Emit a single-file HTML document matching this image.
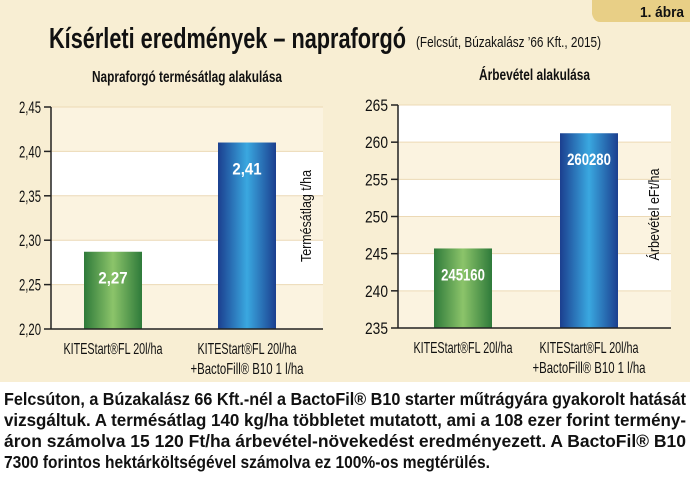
<!DOCTYPE html>
<html><head><meta charset="utf-8">
<style>
html,body{margin:0;padding:0;background:#fff;}
#wrap{position:relative;width:690px;height:480px;overflow:hidden;font-family:"Liberation Sans",sans-serif;}
svg{position:absolute;left:0;top:0;}
</style></head><body>
<div id="wrap">
<svg id="svg" width="690" height="480" viewBox="0 0 690 480" font-family="Liberation Sans, sans-serif">
  <defs>
    <linearGradient id="gGreen" x1="0" x2="1">
      <stop offset="0" stop-color="#2e7a3a"/><stop offset="0.5" stop-color="#8cc46a"/><stop offset="1" stop-color="#2e7a3a"/>
    </linearGradient>
    <linearGradient id="gBlue" x1="0" x2="1">
      <stop offset="0" stop-color="#1b3f8f"/><stop offset="0.5" stop-color="#3aa8e0"/><stop offset="1" stop-color="#1b3f8f"/>
    </linearGradient>
  </defs>
  <rect x="0" y="0" width="690" height="382" fill="#f8eed3"/>
  <path d="M592 0 H690 V22 H600 Q594 22 592 14 Z" fill="#e8cf86"/>
  <text x="684" y="17" text-anchor="end" font-size="15" font-weight="bold" fill="#111" textLength="44" lengthAdjust="spacingAndGlyphs">1. ábra</text>
  <text x="49" y="48" font-size="29" font-weight="bold" fill="#111" textLength="357" lengthAdjust="spacingAndGlyphs">Kísérleti eredmények – napraforgó</text>
  <text x="416" y="47" font-size="15" fill="#111" textLength="185" lengthAdjust="spacingAndGlyphs">(Felcsút, Búzakalász ’66 Kft., 2015)</text>
  <g id="c1"></g>
  <g id="c2"></g>
  <g font-size="17.5" font-weight="bold" fill="#111">
    <text x="4" y="405" textLength="682" lengthAdjust="spacingAndGlyphs">Felcsúton, a Búzakalász 66 Kft.-nél a BactoFil® B10 starter műtrágyára gyakorolt hatását</text>
    <text x="4" y="426" textLength="682" lengthAdjust="spacingAndGlyphs">vizsgáltuk. A termésátlag 140 kg/ha többletet mutatott, ami a 108 ezer forint termény-</text>
    <text x="4" y="447" textLength="682" lengthAdjust="spacingAndGlyphs">áron számolva 15 120 Ft/ha árbevétel-növekedést eredményezett. A BactoFil® B10</text>
    <text x="4" y="468" textLength="486" lengthAdjust="spacingAndGlyphs">7300 forintos hektárköltségével számolva ez 100%-os megtérülés.</text>
  </g>
</svg>
</div>
<script>
const categories = ["KITEStart®FL 20l/ha", "KITEStart®FL 20l/ha|+BactoFill® B10 1 l/ha"];
const yieldValues = [2.287, 2.41];
const yieldLabels = ["2,27", "2,41"];
const yieldTicks = [2.20, 2.25, 2.30, 2.35, 2.40, 2.45];
const yieldTickLabels = ["2,20", "2,25", "2,30", "2,35", "2,40", "2,45"];
const revenueValues = [245.7, 261.2];
const revenueLabels = ["245160", "260280"];
const revenueTicks = [235, 240, 245, 250, 255, 260, 265];
const revenueTickLabels = ["235", "240", "245", "250", "255", "260", "265"];

const NS = "http://www.w3.org/2000/svg";
function mk(tag, attrs, parent, txt){
  const e = document.createElementNS(NS, tag);
  for (const k in attrs) e.setAttribute(k, attrs[k]);
  if (txt !== undefined) e.textContent = txt;
  parent.appendChild(e);
  return e;
}
function drawChart(g, cfg){
  const {x0,x1,yTop,yBot,ticks,tickLabels,values,labels,title,titleW,axisTitle,firstWhite,barXs,barW,prefix,tickW} = cfg;
  const min = ticks[0], max = ticks[ticks.length-1];
  const yS = v => yBot - (v-min)/(max-min)*(yBot-yTop);
  for (let i=0;i<ticks.length-1;i++){
    const r = mk("rect",{x:x0,y:yS(ticks[i+1]),width:x1-x0,height:yS(ticks[i])-yS(ticks[i+1]),fill:((ticks.length-2-i)%2===0)===firstWhite?"#ffffff":"#fbf3e0"},g);
    
    
  }
  ticks.forEach((t,i)=>{
    if (i>0){
      const gl = mk("line",{x1:x0,x2:x1,y1:yS(t),y2:yS(t),stroke:"#ecd9b5","stroke-width":1},g);
      
      
    }
    const tk = mk("line",{x1:x0-7,x2:x0,y1:yS(t),y2:yS(t),stroke:"#222","stroke-width":1.5},g);
    
    
    const tl = mk("text",{x:x0-10,y:yS(t)+6,"text-anchor":"end","font-size":17,fill:"#111",textLength:tickW,lengthAdjust:"spacingAndGlyphs"},g,tickLabels[i]);
    
    
  });
  values.forEach((v,i)=>{
    const b = mk("rect",{x:barXs[i],y:yS(v),width:barW,height:yBot-yS(v),fill:i===0?"url(#gGreen)":"url(#gBlue)"},g);
    
    
    const vl = mk("text",{x:barXs[i]+barW/2,y:yS(v)+32,"text-anchor":"middle","font-size":17,"font-weight":"bold",fill:"#fff",textLength:labels[i].length*7.3,lengthAdjust:"spacingAndGlyphs"},g,labels[i]);
    
    
    categories[i].split("|").forEach((line,j)=>{
      const cl = mk("text",{x:barXs[i]+barW/2,y:yBot+25+j*20,"text-anchor":"middle","font-size":16,fill:"#111",textLength:j===0?99:113,lengthAdjust:"spacingAndGlyphs"},g,line);
      
      
    });
  });
  const ax = mk("line",{x1:x0,x2:x0,y1:yTop,y2:yBot,stroke:"#222","stroke-width":1.5},g);
  
  
  const bx = mk("line",{x1:x0,x2:x1,y1:yBot,y2:yBot,stroke:"#222","stroke-width":1.5},g);
  
  
  const tt = mk("text",{x:(x0+x1)/2,y:yTop-25,"text-anchor":"middle","font-size":16,"font-weight":"bold",fill:"#111",textLength:titleW,lengthAdjust:"spacingAndGlyphs"},g,title);
  
  
  const at = mk("text",{x:0,y:0,"text-anchor":"middle","font-size":15,fill:"#111",textLength:92,lengthAdjust:"spacingAndGlyphs",transform:`translate(${x1-12},${(yTop+yBot)/2-2}) rotate(-90)`},g,axisTitle);
  
  
}
drawChart(document.getElementById("c1"),{x0:51,x1:323,yTop:107,yBot:329,ticks:yieldTicks,tickLabels:yieldTickLabels,values:yieldValues,labels:yieldLabels,title:"Napraforgó termésátlag alakulása",titleW:190,axisTitle:"Termésátlag t/ha",firstWhite:false,barXs:[84,218],barW:58,prefix:"yield",tickW:22});
drawChart(document.getElementById("c2"),{x0:398,x1:671,yTop:105,yBot:328,ticks:revenueTicks,tickLabels:revenueTickLabels,values:revenueValues,labels:revenueLabels,title:"Árbevétel alakulása",titleW:111,axisTitle:"Árbevétel eFt/ha",firstWhite:true,barXs:[434,560],barW:58,prefix:"revenue",tickW:23});
</script>
</body></html>
